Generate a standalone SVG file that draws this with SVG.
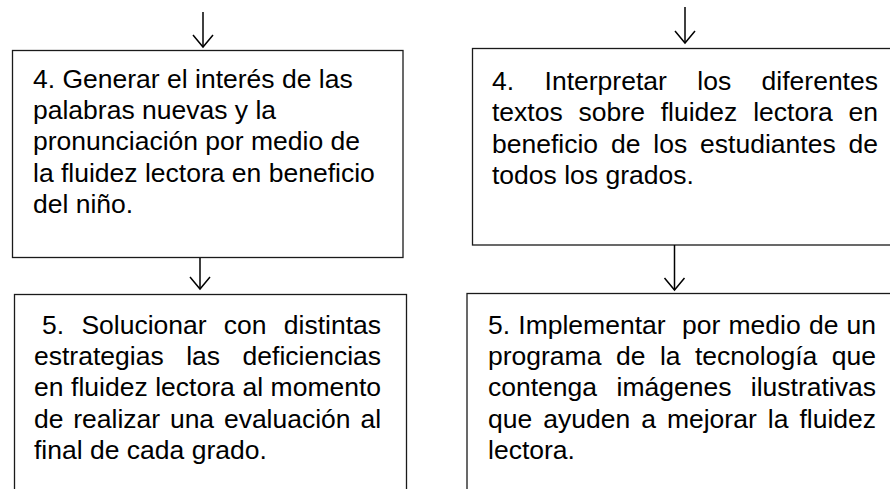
<svg xmlns="http://www.w3.org/2000/svg" width="890" height="489" viewBox="0 0 890 489">
<style>
.box{fill:#fff;stroke:#1a1a1a;stroke-width:1.3}
.t{font-family:"Liberation Sans",Arial,sans-serif;font-size:26.5px;fill:#000}
.c{stroke:#000;stroke-width:1.5;fill:none}
</style>
<defs>
<marker id="ah" markerUnits="userSpaceOnUse" viewBox="-1 -1 15 22" refX="12" refY="10" markerWidth="15" markerHeight="22" orient="auto" overflow="visible">
<path d="M0,0 L12,10 L0,20" fill="none" stroke="#000" stroke-width="1.5"/>
</marker>
</defs>
<rect width="890" height="489" fill="#fff"/>
<g id="n1">
<rect class="box" x="12.5" y="50.5" width="390.5" height="207"/>
<text class="t" x="33" y="87.5">4. Generar el interés de las</text>
<text class="t" x="33" y="118.9">palabras nuevas y la</text>
<text class="t" x="33" y="150.3">pronunciación por medio de</text>
<text class="t" x="33" y="181.7">la fluidez lectora en beneficio</text>
<text class="t" x="33" y="213.1">del niño.</text>
</g>
<g id="n2">
<rect class="box" x="472.5" y="48.5" width="430" height="196.5"/>
<text class="t" y="90"><tspan x="492">4.</tspan><tspan x="544.6">Interpretar</tspan><tspan x="697.3">los</tspan><tspan x="761.6">diferentes</tspan></text>
<text class="t" y="121.4"><tspan x="492">textos</tspan><tspan x="578.6">sobre</tspan><tspan x="660.7">fluidez</tspan><tspan x="753.2">lectora</tspan><tspan x="848.5">en</tspan></text>
<text class="t" y="152.8"><tspan x="492">beneficio</tspan><tspan x="611">de</tspan><tspan x="653.3">los</tspan><tspan x="700.1">estudiantes</tspan><tspan x="848.5">de</tspan></text>
<text class="t" x="492" y="184.2">todos los grados.</text>
</g>
<g id="n3">
<rect class="box" x="14.5" y="294.5" width="392" height="210"/>
<text class="t" y="333.5"><tspan x="42">5.</tspan><tspan x="81.4">Solucionar</tspan><tspan x="223.8">con</tspan><tspan x="283.8">distintas</tspan></text>
<text class="t" y="364.9"><tspan x="34">estrategias</tspan><tspan x="186.2">las</tspan><tspan x="242.6">deficiencias</tspan></text>
<text class="t" y="396.3"><tspan x="34">en</tspan><tspan x="71.1">fluidez</tspan><tspan x="155.2">lectora</tspan><tspan x="242.4">al</tspan><tspan x="270.6">momento</tspan></text>
<text class="t" y="427.7"><tspan x="34">de</tspan><tspan x="73.3">realizar</tspan><tspan x="169.9">una</tspan><tspan x="223.9">evaluación</tspan><tspan x="360.4">al</tspan></text>
<text class="t" x="34" y="459.1">final de cada grado.</text>
</g>
<g id="n4">
<rect class="box" x="467" y="293.5" width="440" height="210"/>
<text class="t" y="333.5"><tspan x="488">5.</tspan><tspan x="518.3">Implementar</tspan><tspan x="682">por</tspan><tspan x="728.5">medio</tspan><tspan x="808.9">de</tspan><tspan x="846.5">un</tspan></text>
<text class="t" y="364.9"><tspan x="488">programa</tspan><tspan x="615.9">de</tspan><tspan x="659.9">la</tspan><tspan x="695">tecnología</tspan><tspan x="831.8">que</tspan></text>
<text class="t" y="396.3"><tspan x="488">contenga</tspan><tspan x="616.5">imágenes</tspan><tspan x="750.8">ilustrativas</tspan></text>
<text class="t" y="427.7"><tspan x="488">que</tspan><tspan x="543.2">ayuden</tspan><tspan x="641.2">a</tspan><tspan x="666.9">mejorar</tspan><tspan x="767.8">la</tspan><tspan x="799.4">fluidez</tspan></text>
<text class="t" x="488" y="459.1">lectora.</text>
</g>
<g id="connectors">
<line class="c" x1="203" y1="12" x2="203" y2="47" marker-end="url(#ah)"/>
<line class="c" x1="685" y1="7" x2="685" y2="43" marker-end="url(#ah)"/>
<line class="c" x1="200" y1="258" x2="200" y2="289" marker-end="url(#ah)"/>
<line class="c" x1="674.5" y1="245" x2="674.5" y2="290" marker-end="url(#ah)"/>
</g>
</svg>
